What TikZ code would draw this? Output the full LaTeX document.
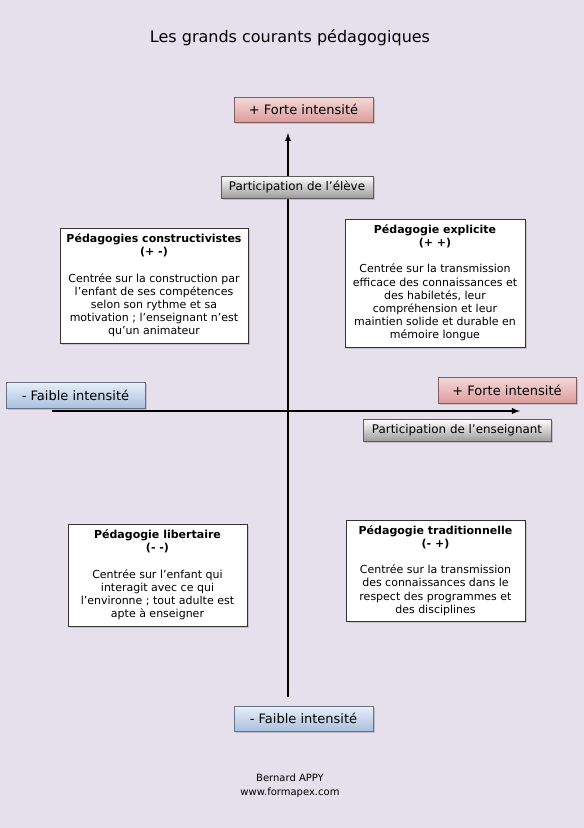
\documentclass[tikz,border=0pt]{standalone}
\usepackage{fontspec}
\setmainfont{DejaVu Sans}
\usetikzlibrary{arrows,shadows}

\definecolor{fond}{HTML}{E5E0EC}
\definecolor{rosehaut}{HTML}{F5D9D9}
\definecolor{rosebas}{HTML}{DC9C9C}
\definecolor{bleuhaut}{HTML}{E8EFF8}
\definecolor{bleubas}{HTML}{A9C0DE}
\definecolor{grisbas}{HTML}{9A9A9A}

\begin{document}
\begin{tikzpicture}[x=1pt,y=-1pt,>=latex,
    axe/.style={line width=1.8pt},
    etiquette/.style={draw=#1!60!black,line width=0.6pt,inner sep=0pt,
                      drop shadow={shadow xshift=1.5pt,shadow yshift=-1.5pt,opacity=0.35}},
    forte/.style={etiquette=rosebas,top color=rosehaut,bottom color=rosebas,
                  minimum width=139pt,minimum height=25pt,font=\fontsize{13}{15}\selectfont},
    faible/.style={etiquette=bleubas,top color=bleuhaut,bottom color=bleubas,
                   minimum width=139pt,minimum height=25pt,font=\fontsize{13}{15}\selectfont},
    participation/.style={etiquette=grisbas,top color=white,bottom color=grisbas,
                          minimum height=22pt,font=\fontsize{11.9}{14}\selectfont},
    courant/.style={draw=black!80,fill=white,line width=0.6pt,align=center,
                    inner sep=0pt,font=\fontsize{11}{13.2}\selectfont,
                    drop shadow={shadow xshift=1.5pt,shadow yshift=-1.5pt,opacity=0.3}}]

  \fill[fond] (0,0) rectangle (584,828);
  \useasboundingbox (0,0) rectangle (584,828);

  \node (titre) at (290,38) {\fontsize{16}{18}\selectfont Les grands courants pédagogiques};

  % axes
  \coordinate (vbas)   at (288,697);
  \coordinate (vhaut)  at (288,133);
  \coordinate (hgauche) at (52,411);
  \coordinate (hdroite) at (520,411);
  \draw[axe,->] (vbas) -- (vhaut);
  \draw[axe,->] (hgauche) -- (hdroite);

  \node[forte] (haut) at (303.5,109.5) {+ Forte intensité};
  \node[faible] (bas) at (303.5,718.5) {- Faible intensité};
  \node[faible,minimum height=26pt] (gauche) at (75.5,395) {- Faible intensité};
  \node[forte,minimum height=26pt,minimum width=138pt] (droite) at (507,390) {+ Forte intensité};

  \node[participation,minimum width=152pt] (eleve) at (297,187) {Participation de l’élève};
  \node[participation,minimum width=188pt] (enseignant) at (457,430.5) {Participation de l’enseignant};

  \node[courant,minimum width=188pt,minimum height=115pt] (constructiviste) at (154,285.5)
    {\textbf{Pédagogies constructivistes}\\\textbf{(+ -)}\\[13pt]
     Centrée sur la construction par\\l’enfant de ses compétences\\selon son rythme et sa\\
     motivation ; l’enseignant n’est\\qu’un animateur};
  \node[courant,minimum width=180pt,minimum height=128pt] (explicite) at (435,283)
    {\textbf{Pédagogie explicite}\\\textbf{(+ +)}\\[13pt]
     Centrée sur la transmission\\efficace des connaissances et\\des habiletés, leur\\
     compréhension et leur\\maintien solide et durable en\\mémoire longue};
  \node[courant,minimum width=179pt,minimum height=102pt] (libertaire) at (157.5,575)
    {\textbf{Pédagogie libertaire}\\\textbf{(- -)}\\[13pt]
     Centrée sur l’enfant qui\\interagit avec ce qui\\l’environne ; tout adulte est\\apte à enseigner};
  \node[courant,minimum width=179pt,minimum height=101pt] (traditionnelle) at (435.5,570.5)
    {\textbf{Pédagogie traditionnelle}\\\textbf{(- +)}\\[13pt]
     Centrée sur la transmission\\des connaissances dans le\\respect des programmes et\\des disciplines};

  \node[align=center,font=\fontsize{10}{14}\selectfont] (auteur) at (290,786)
    {Bernard APPY\\www.formapex.com};
\end{tikzpicture}
\end{document}
